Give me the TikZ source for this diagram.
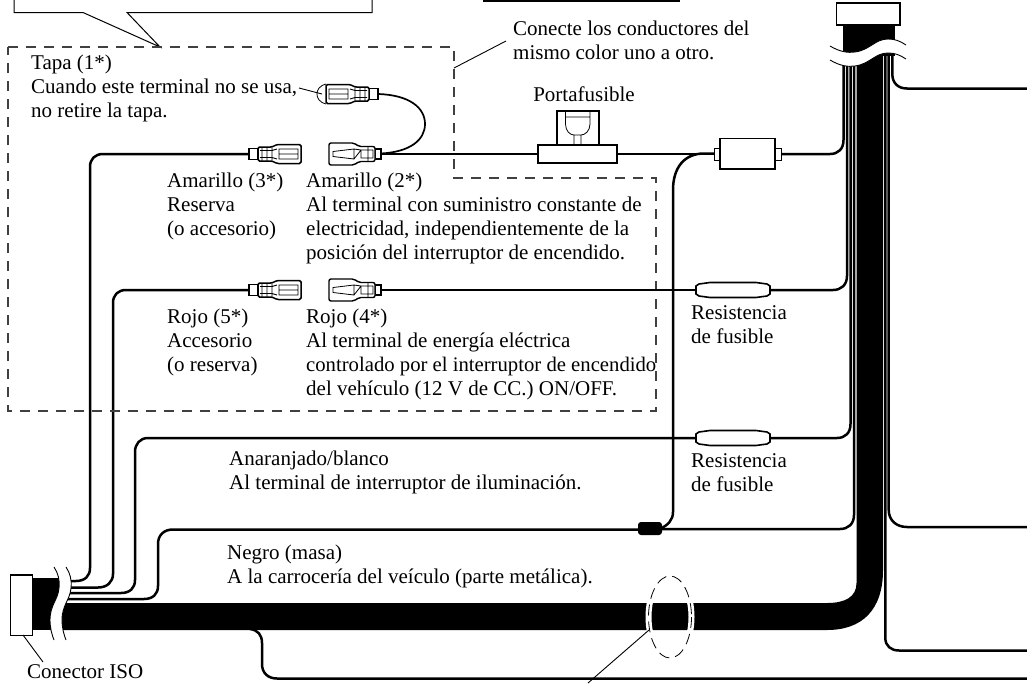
\documentclass[tikz,border=0pt]{standalone}
\usepackage{fontspec}
\setmainfont{Liberation Serif}
\begin{document}
\begin{tikzpicture}[x=1pt,y=-1pt,
  wire/.style={line width=2.5pt,line join=round},
  thinwire/.style={line width=1.7pt},
  outl/.style={line width=1.3pt,fill=white},
  lead/.style={line width=0.9pt},
  dashbox/.style={line width=1.1pt,draw=black!75,dash pattern=on 10pt off 8pt},
  txt/.style={anchor=base west,inner sep=0pt,font=\fontsize{21}{24}\selectfont},
  txtc/.style={anchor=base,inner sep=0pt,font=\fontsize{21}{24}\selectfont},
  femconn/.pic={
    \draw[line width=1.1pt,fill=white] (0,-5.5) rectangle (9,5.5);
    \draw[line width=1.5pt,fill=white,rounded corners=1.5pt] (9,-7) -- (23,-7) -- (28,-9.5) -- (52,-9.5) -- (52,9.5) -- (28,9.5) -- (23,7) -- (9,7) -- cycle;
    \draw[line width=0.9pt] (30,-5) rectangle (49,5) (30,0) -- (49,0) (28,-5) -- (23,-3.5) -- (11,-3.5) (28,5) -- (23,3.5) -- (11,3.5) (13,-7) -- (13,7) (18,-7) -- (18,7) (23,-7) -- (23,7);
  },
  malconn/.pic={
    \draw[line width=1.1pt,fill=white] (0,-5) rectangle (6,5);
    \draw[line width=1.4pt,fill=white,rounded corners=2pt] (6,-7.5) -- (22,-7.5) -- (27,-11) -- (52,-11) -- (52,11) -- (27,11) -- (22,7.5) -- (6,7.5) -- cycle;
    \draw[line width=0.8pt] (8,-4) rectangle (20,4) (13,-7.5) -- (13,7.5) (20,-4) -- (27,-5) -- (48,-2.5) -- (48,2.5) -- (27,5) -- cycle (27,-5) -- (27,5);
  },
  resist/.pic={
    \draw[line width=1.6pt,fill=white] (0,-4) -- (3,-6) -- (14,-7.5) -- (60,-7.5) -- (71,-6) -- (74,-4) -- (74,4) -- (71,6) -- (60,7.5) -- (14,7.5) -- (3,6) -- (0,4) -- cycle;
  }]
\useasboundingbox (0,0) rectangle (1027,683);

% callout and title box remnants
\draw[line width=1pt] (14,0) -- (14,12.5) -- (83,12.5) -- (160,47) -- (127,12.5) -- (372,12.5) -- (372,0);
\fill (483,0) rectangle (680,2.2);

% main harness
\fill (843,25) rectangle (895,56);
\fill (856.5,50) -- (856.5,583) .. controls (856.5,597) and (845,603) .. (827,603) -- (50,603) -- (50,630) -- (827,630) .. controls (862,630) and (883,610) .. (883,570) -- (883,50) -- cycle;
\fill (33,578) rectangle (66,630);

% wires in the bundle, left side
\draw[wire] (843.5,55) -- (843.5,140) .. controls (843.5,149) and (838,154) .. (830,154) -- (781,154);
\draw[wire] (847,55) -- (847,276) .. controls (847,285) and (841,290) .. (833,290) -- (770,290);
\draw[wire] (850.5,55) -- (850.5,424) .. controls (850.5,433) and (845,438) .. (837,438) -- (770,438);
\draw[wire] (854,55) -- (854,515) .. controls (854,524) and (848,529) .. (840,529) -- (662,529);
% wires in the bundle, right side
\draw[wire] (885.3,55) -- (885.3,638) .. controls (885.3,646) and (891,650.5) .. (899,650.5) -- (1027,650.5);
\draw[wire] (888.7,55) -- (888.7,510) .. controls (888.7,520) and (896,527) .. (907,527) -- (1027,527);
\draw[wire] (892.3,55) -- (892.3,74) .. controls (892.3,83) and (898,88.5) .. (907,88.5) -- (1027,88.5);

% wires at the left connector
\draw[wire] (60,581) -- (76,581) .. controls (85,581) and (90,576) .. (90,568) -- (90,167) .. controls (90,159) and (95,154) .. (103,154) -- (249,154);
\draw[wire] (60,587.5) -- (98,587.5) .. controls (107,587.5) and (113,582) .. (113,574) -- (113,303) .. controls (113,295) and (118,290) .. (126,290) -- (249,290);
\draw[wire] (60,593) -- (121,593) .. controls (130,593) and (135,588) .. (135,580) -- (135,452) .. controls (135,444) and (140,438) .. (148,438) -- (696,438);
\draw[wire] (60,599) -- (144,599) .. controls (153,599) and (158,594) .. (158,586) -- (158,544) .. controls (158,535) and (164,529.5) .. (173,529.5) -- (638,529.5);

% bottom wire
\draw[wire] (250,629) .. controls (258,630) and (262,635) .. (262,643) -- (262,664) .. controls (262,673) and (268,678.5) .. (277,678.5) -- (1027,678.5);

% wave breaks
\fill[white] (830,46) .. controls (840,52) and (848,53) .. (855,52) .. controls (870,50) and (875,39) .. (888,39) .. controls (895,39) and (900,41) .. (906,45)
  -- (906,59) .. controls (900,55) and (895,53) .. (888,53) .. controls (875,53) and (870,64) .. (855,66) .. controls (848,67) and (840,66) .. (830,60) -- cycle;
\draw[lead] (830,46) .. controls (840,52) and (848,53) .. (855,52) .. controls (870,50) and (875,39) .. (888,39) .. controls (895,39) and (900,41) .. (906,45);
\draw[lead] (830,60) .. controls (840,66) and (848,67) .. (855,66) .. controls (870,64) and (875,53) .. (888,53) .. controls (895,53) and (900,55) .. (906,59);
\fill[white] (54,567) .. controls (58,573) and (60,580) .. (59,588) .. controls (58,600) and (50,605) .. (50,620) .. controls (50,628) and (52,635) .. (54,640)
  -- (66,640) .. controls (64,635) and (62,628) .. (62,620) .. controls (62,605) and (70,600) .. (71,588) .. controls (72,580) and (70,573) .. (66,567) -- cycle;
\draw[lead] (54,567) .. controls (58,573) and (60,580) .. (59,588) .. controls (58,600) and (50,605) .. (50,620) .. controls (50,628) and (52,635) .. (54,640);
\draw[lead] (66,567) .. controls (70,573) and (72,580) .. (71,588) .. controls (70,600) and (62,605) .. (62,620) .. controls (62,628) and (64,635) .. (66,640);

% connectors at the ends of the harness
\draw[outl] (836.5,3) rectangle (900,25);
\draw[outl,line width=1.1pt] (10.7,575) rectangle (32.7,635.5);
\draw[lead] (23,635) -- (43,662);

% dashed region and leader
\draw[dashbox] (8,47) -- (454,47) -- (454,178) -- (656,178) -- (656,411) -- (8,411) -- cycle;
\draw[lead] (454,68) -- (506,41);

% wire row 1
\draw[wire] (381,154) -- (538,154);
\draw[wire] (617,154) -- (714,154);
\draw[thinwire] (381,153.5) .. controls (410,152) and (425,140) .. (425,124) .. controls (425,108) and (410,95) .. (378,94);
\draw[wire] (714,153.5) -- (704,153.5) .. controls (684,153.5) and (673,168) .. (673,190) -- (673,512) .. controls (673,520) and (668,525) .. (660,529);
\draw[wire] (381,290) -- (696,290);
% fuse holder
\draw[outl] (557,111) rectangle (599,145);
\draw[line width=0.8pt] (565.5,111) -- (565.5,124) .. controls (565.5,131) and (570,135) .. (574,135) -- (574,145) (590,111) -- (590,124) .. controls (590,131) and (585,135) .. (581,135) -- (581,145) (574,135) -- (581,135) (565.5,117) -- (590,117);
\draw[outl] (538,145) rectangle (617,163);
% inline fuse box
\draw[outl,line width=1pt] (714,148) rectangle (720,160);
\draw[outl,line width=1pt] (775,148) rectangle (781,160);
\draw[outl] (720,138.5) rectangle (775,169);
% resistors
\pic at (696,290) {resist};
\pic at (696,438) {resist};
% blob
\fill[rounded corners=3pt] (638,522) rectangle (662,535);
% terminals
\pic at (249,154) {femconn};
\pic at (249,290) {femconn};
\pic[xscale=-1] at (378,94) {femconn};
\pic[xscale=-1] at (381,154) {malconn};
\pic[xscale=-1] at (381,290) {malconn};
% cap
\draw[line width=0.8pt] (326,84) .. controls (319,86) and (317,90) .. (317,94) .. controls (317,98) and (319,102) .. (326,104);
\draw[lead] (299,88) -- (322,94);

% dashed ellipse
\begin{scope}
\clip (630,603) rectangle (710,630);
\draw[white,line width=6pt] (670,617) ellipse [x radius=21.5,y radius=41];
\end{scope}
\draw[line width=0.8pt,dash pattern=on 11pt off 6pt] (670,617) ellipse [x radius=21.5,y radius=41];
\draw[lead] (649,630) -- (588,683);

% texts
\node[txt] (t1) at (31,69) {Tapa (1*)};
\node[txt] (t2) at (31,93) {Cuando este terminal no se usa,};
\node[txt] (t3) at (31,117) {no retire la tapa.};
\node[txt] (t4) at (513,35) {Conecte los conductores del};
\node[txt] (t5) at (513,59) {mismo color uno a otro.};
\node[txtc] (t6) at (584,101) {Portafusible};
\node[txt] (t7) at (167,187) {Amarillo (3*)};
\node[txt] (t8) at (167,211) {Reserva};
\node[txt] (t9) at (167,235) {(o accesorio)};
\node[txt] (t10) at (306,187) {Amarillo (2*)};
\node[txt] (t11) at (306,211) {Al terminal con suministro constante de};
\node[txt] (t12) at (306,235) {electricidad, independientemente de la};
\node[txt] (t13) at (306,259) {posición del interruptor de encendido.};
\node[txt] (t14) at (167,323) {Rojo (5*)};
\node[txt] (t15) at (167,347) {Accesorio};
\node[txt] (t16) at (167,371) {(o reserva)};
\node[txt] (t17) at (306,323) {Rojo (4*)};
\node[txt] (t18) at (306,347) {Al terminal de energía eléctrica};
\node[txt,font=\fontsize{20.7}{24}\selectfont] (t19) at (306,371) {controlado por el interruptor de encendido};
\node[txt] (t20) at (306,395) {del vehículo (12 V de CC.) ON/OFF.};
\node[txt] (t21) at (691,319) {Resistencia};
\node[txt] (t22) at (691,343) {de fusible};
\node[txt] (t23) at (691,467) {Resistencia};
\node[txt] (t24) at (691,491) {de fusible};
\node[txt] (t25) at (229,465) {Anaranjado/blanco};
\node[txt] (t26) at (229,489) {Al terminal de interruptor de iluminación.};
\node[txt] (t27) at (227,559) {Negro (masa)};
\node[txt] (t28) at (227,583) {A la carrocería del veículo (parte metálica).};
\node[txt] (t29) at (27,678.5) {Conector ISO};
\end{tikzpicture}
\end{document}
